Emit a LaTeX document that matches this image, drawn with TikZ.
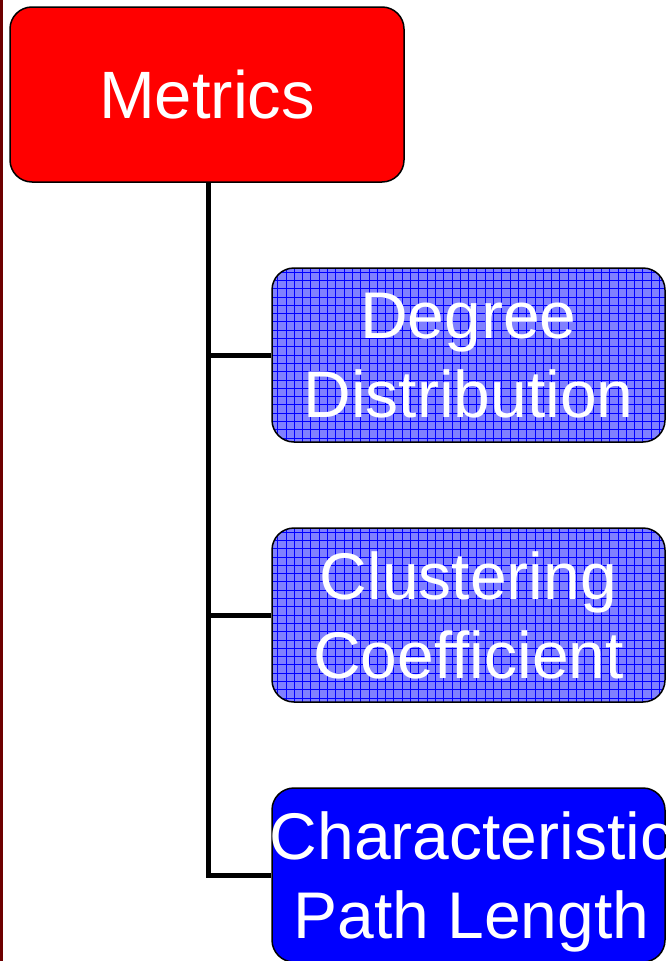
\documentclass[tikz,border=0pt]{standalone}
\usepackage{fontspec}
\usetikzlibrary{calc}
\setmainfont[Ligatures=NoCommon]{Liberation Sans}
\definecolor{edgered}{RGB}{110,0,0}
\definecolor{paleblue}{RGB}{128,128,255}
\begin{document}
\begin{tikzpicture}[x=1pt,y=-1pt,
  box/.style={draw=black,line width=1.5pt,rounded corners=22pt,inner sep=0pt,
    minimum width=393pt,minimum height=174pt},
  rootbox/.style={box,fill=red,minimum width=394pt,minimum height=175pt},
  gridbox/.style={box,fill=paleblue,
    path picture={\draw[line width=0.8pt,blue]
      ([shift={(-10pt,-10pt)}]path picture bounding box.south west) grid[step=8.3pt]
      ([shift={(10pt,10pt)}]path picture bounding box.north east);}},
  solidbox/.style={box,fill=blue},
  txt/.style={text=white,align=center,inner sep=0pt,font=\fontsize{66}{79}\selectfont},
  link/.style={line width=5pt,black}]
\useasboundingbox (0,0) rectangle (670,961);
\fill[white] (0,0) rectangle (670,961);
% dark red rule along the left edge
\fill[edgered] (0,0) rectangle (2.5,961);

% boxes
\node[rootbox] (root) at (207,94.5) {};
\node[gridbox] (deg) at (468.5,355) {};
\node[gridbox] (clu) at (468.5,615) {};
\node[solidbox] (cpl) at (468.5,875) {};

% labels (positive y is down here, so they sit at the box centre plus an offset)
\node[txt,font=\fontsize{67}{80}\selectfont] (troot) at (root.center) {Metrics};
\node[txt] (tdeg) at ($(deg.center)+(0,1)$) {Degree\\Distribution};
\node[txt] (tclu) at ($(clu.center)+(0,0)$) {Clustering\\Coefficient};
\node[txt] (tcpl) at ($(cpl.center)+(3,7)$) {Characteristic\\Path Length};

% tree connectors
\coordinate (trunk) at (208,0);
\draw[link] (root.south -| trunk) |- (deg.west);
\draw[link] (root.south -| trunk) |- (clu.west);
\draw[link,line join=miter] (root.south -| trunk) |- (cpl.west);
\end{tikzpicture}
\end{document}
